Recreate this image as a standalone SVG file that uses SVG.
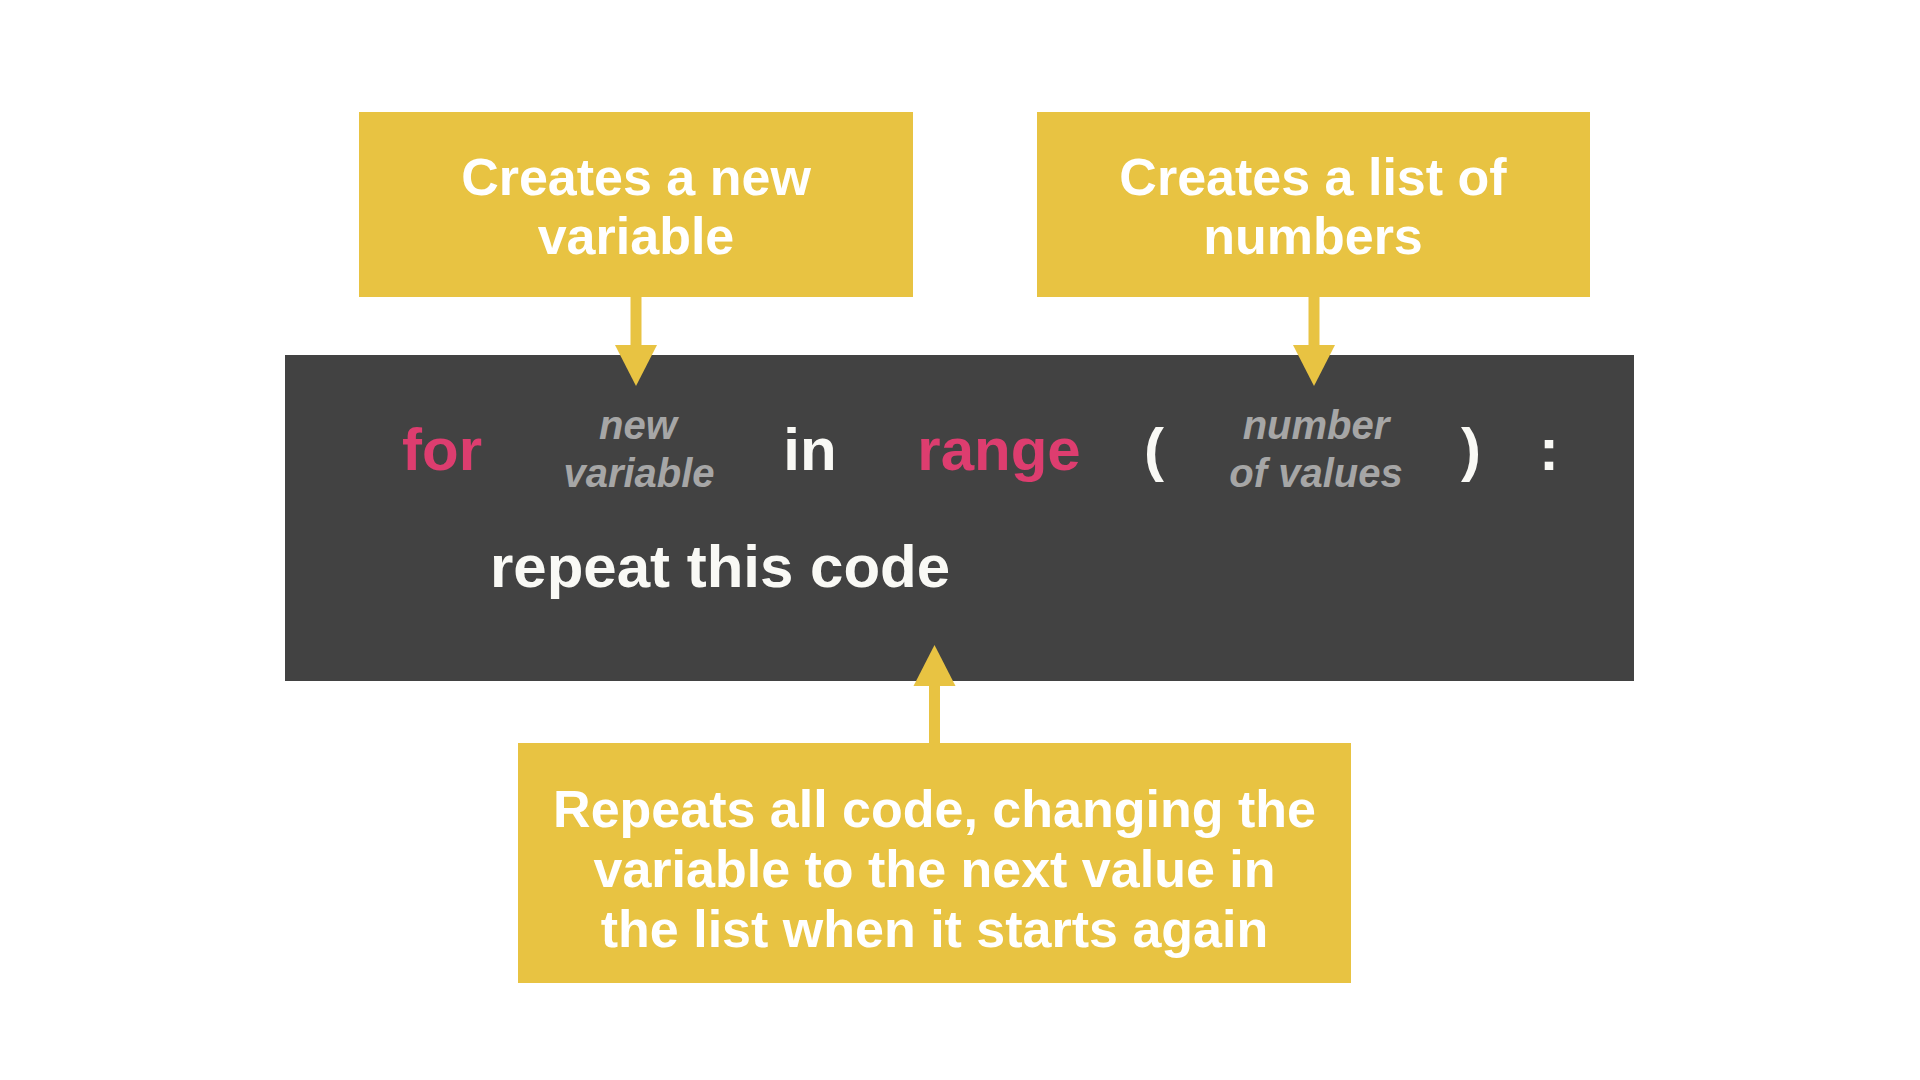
<svg xmlns="http://www.w3.org/2000/svg" width="1920" height="1080" viewBox="0 0 1920 1080">
<style>
.box{fill:#E8C342}
.code{fill:#424242}
.lbl{font-family:"Liberation Sans",Arial,sans-serif;font-weight:bold;font-size:52px;fill:#FFFFFF;text-anchor:middle}
.kw{font-family:"Liberation Sans",Arial,sans-serif;font-weight:bold;font-size:60px;text-anchor:middle}
.pink{fill:#DD3D6F}
.white{fill:#F9F9F5}
.ph{font-family:"Liberation Sans",Arial,sans-serif;font-weight:bold;font-style:italic;font-size:40px;fill:#A6A6A6;text-anchor:middle}
.shaft{stroke:#E8C342;stroke-width:11;fill:none}
.head{fill:#E8C342}
</style>
<rect width="1920" height="1080" fill="#FFFFFF"/>
<g id="code-block">
<rect class="code" x="285" y="355" width="1349" height="326"/>
<text class="kw pink" x="442" y="470">for</text>
<text class="ph" x="638" y="439">new</text>
<text class="ph" x="639" y="487">variable</text>
<text class="kw white" x="810" y="470">in</text>
<text class="kw pink" x="999" y="470">range</text>
<text class="kw white" x="1154" y="470">(</text>
<text class="ph" x="1316" y="439">number</text>
<text class="ph" x="1316" y="487">of values</text>
<text class="kw white" x="1471" y="470">)</text>
<text class="kw white" x="1549" y="470">:</text>
<text class="kw white" x="720" y="587">repeat this code</text>
</g>
<g id="box-new-variable">
<rect class="box" x="359" y="112" width="554" height="185"/>
<text class="lbl" x="636" y="195">Creates a new</text>
<text class="lbl" x="636" y="254">variable</text>
</g>
<g id="box-list-numbers">
<rect class="box" x="1037" y="112" width="553" height="185"/>
<text class="lbl" x="1313" y="195">Creates a list of</text>
<text class="lbl" x="1313" y="254">numbers</text>
</g>
<g id="box-repeats">
<rect class="box" x="518" y="743" width="833" height="240"/>
<text class="lbl" x="934.5" y="827">Repeats all code, changing the</text>
<text class="lbl" x="934.5" y="887">variable to the next value in</text>
<text class="lbl" x="934.5" y="947">the list when it starts again</text>
</g>
<g id="connectors">
<line class="shaft" x1="636" y1="297" x2="636" y2="346"/>
<polygon class="head" points="615,345 657,345 636,386"/>
<line class="shaft" x1="1314" y1="297" x2="1314" y2="346"/>
<polygon class="head" points="1293,345 1335,345 1314,386"/>
<line class="shaft" x1="934.5" y1="743" x2="934.5" y2="685"/>
<polygon class="head" points="913.5,686 955.5,686 934.5,645"/>
</g>
</svg>
